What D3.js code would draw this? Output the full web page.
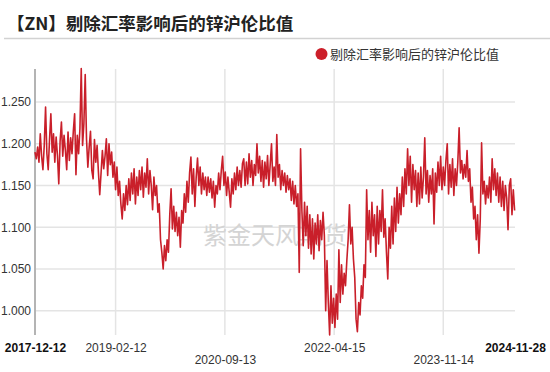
<!DOCTYPE html>
<html><head><meta charset="utf-8">
<script src="https://cdn.jsdelivr.net/npm/d3@7"></script>
<style>body{margin:0;background:#fff;}svg{display:block;}</style>
</head><body>
<script>
const title = "【ZN】剔除汇率影响后的锌沪伦比值";
const seriesName = "剔除汇率影响后的锌沪伦比值";
const watermark = "紫金天风期货";
const startDate = "2017-12-12";
const endDate = "2024-11-28";
const stepDays = 7;
const xTickLabels = ["2017-12-12","2019-02-12","2020-09-13","2022-04-15","2023-11-14","2024-11-28"];
const xTickRow = [0,0,1,0,1,0];
const xTickBold = [true,false,false,false,false,true];
const yTicks = [1.000,1.050,1.100,1.150,1.200,1.250];
const yDomain = [0.971, 1.2895];
const values = [
1.190,1.182,1.196,1.178,1.212,1.185,1.169,1.198,1.244,1.188,
1.169,1.205,1.236,1.190,1.212,1.178,1.208,1.186,1.152,1.203,
1.226,1.185,1.210,1.192,1.169,1.214,1.180,1.207,1.188,1.215,
1.236,1.163,1.210,1.188,1.218,1.290,1.198,1.224,1.283,1.205,
1.172,1.196,1.215,1.168,1.158,1.205,1.178,1.198,1.166,1.139,
1.165,1.192,1.170,1.185,1.206,1.162,1.200,1.175,1.190,1.160,
1.178,1.145,1.172,1.138,1.155,1.128,1.110,1.140,1.120,1.150,
1.127,1.158,1.132,1.165,1.140,1.170,1.128,1.160,1.138,1.168,
1.145,1.172,1.136,1.165,1.148,1.182,1.140,1.168,1.150,1.121,
1.160,1.138,1.150,1.118,1.128,1.085,1.070,1.050,1.078,1.060,
1.085,1.070,1.115,1.146,1.098,1.125,1.095,1.118,1.090,1.112,
1.076,1.120,1.105,1.140,1.118,1.155,1.130,1.165,1.184,1.140,
1.170,1.125,1.160,1.183,1.150,1.172,1.140,1.165,1.145,1.160,
1.138,1.160,1.142,1.158,1.135,1.155,1.124,1.150,1.140,1.165,
1.145,1.168,1.185,1.150,1.166,1.138,1.160,1.142,1.124,1.158,
1.140,1.165,1.145,1.172,1.150,1.168,1.148,1.176,1.182,1.150,
1.178,1.152,1.188,1.160,1.180,1.150,1.175,1.162,1.200,1.165,
1.185,1.155,1.180,1.148,1.178,1.158,1.186,1.150,1.175,1.200,
1.155,1.172,1.150,1.211,1.160,1.175,1.145,1.168,1.150,1.165,
1.142,1.162,1.145,1.158,1.132,1.155,1.128,1.150,1.125,1.140,
1.046,1.194,1.120,1.078,1.130,1.090,1.125,1.075,1.115,1.068,
1.110,1.062,1.105,1.080,1.115,1.072,1.108,1.085,1.118,1.090,
1.000,1.060,1.010,0.971,1.030,0.985,1.015,0.980,1.020,0.990,
1.073,1.010,1.055,1.020,1.045,1.030,1.060,1.085,1.127,1.080,
1.100,1.062,1.040,0.990,0.975,1.010,0.995,1.030,1.015,1.055,
1.040,1.145,1.085,1.120,1.070,1.130,1.090,1.115,1.065,1.125,
1.080,1.120,1.095,1.145,1.088,1.110,1.070,1.038,1.100,1.075,
1.125,1.080,1.135,1.095,1.148,1.105,1.140,1.115,1.160,1.125,
1.170,1.140,1.194,1.150,1.185,1.130,1.175,1.145,1.168,1.125,
1.165,1.128,1.172,1.135,1.160,1.207,1.140,1.168,1.130,1.162,
1.140,1.170,1.104,1.165,1.142,1.178,1.150,1.185,1.145,1.172,
1.150,1.180,1.200,1.140,1.175,1.148,1.182,1.138,1.170,1.150,
1.178,1.219,1.165,1.180,1.158,1.175,1.160,1.192,1.155,1.170,
1.130,1.148,1.110,1.125,1.085,1.115,1.069,1.110,1.201,1.140,
1.155,1.128,1.150,1.135,1.160,1.130,1.182,1.145,1.170,1.138,
1.165,1.130,1.160,1.125,1.155,1.120,1.150,1.135,1.097,1.150,
1.158,1.115,1.145,1.120
];

const W = 550, H = 372;
const plot = {left: 35, right: 515, top: 69, bottom: 335};
const parse = d3.timeParse("%Y-%m-%d");
const t0 = parse(startDate);
const data = values.map((v, i) => ({date: d3.timeDay.offset(t0, i * stepDays), value: v}));

const x = d3.scaleTime().domain([parse(startDate), parse(endDate)]).range([plot.left, plot.right]);
const y = d3.scaleLinear().domain(yDomain).range([plot.bottom, plot.top]);

const svg = d3.select("body").append("svg").attr("width", W).attr("height", H)
  .style("font-family", "Arial, 'Liberation Sans', sans-serif");

// Title
svg.append("text").attr("x", 7).attr("y", 30)
  .attr("font-family", "'Noto Sans CJK SC', sans-serif")
  .attr("font-weight", "bold").attr("font-size", 17.5).attr("fill", "#222")
  .text(title);
svg.append("line").attr("x1", 4).attr("x2", W).attr("y1", 38.5).attr("y2", 38.5)
  .attr("stroke", "#d2d2d2").attr("stroke-width", 1.5);

// Legend
svg.append("circle").attr("cx", 321.5).attr("cy", 54).attr("r", 6).attr("fill", "#cc1f2a");
svg.append("text").attr("x", 330).attr("y", 58.5)
  .attr("font-family", "'Noto Sans CJK SC', sans-serif")
  .attr("font-size", 13).attr("fill", "#333").text(seriesName);

// Grid
const gGrid = svg.append("g");
gGrid.selectAll("line.h").data(yTicks).enter().append("line")
  .attr("x1", plot.left).attr("x2", plot.right)
  .attr("y1", d => y(d)).attr("y2", d => y(d))
  .attr("stroke", "#e4e4e4").attr("stroke-width", 1.5);
gGrid.selectAll("line.v").data(xTickLabels.slice(1, -1)).enter().append("line")
  .attr("x1", d => x(parse(d))).attr("x2", d => x(parse(d)))
  .attr("y1", plot.top).attr("y2", plot.bottom)
  .attr("stroke", "#e4e4e4").attr("stroke-width", 1.5);

// Watermark
svg.append("text").attr("x", 203).attr("y", 244)
  .attr("font-family", "'Noto Sans CJK SC', sans-serif")
  .attr("font-size", 24).attr("fill", "#d4d4d4").text(watermark);

// Y axis
const yAxis = d3.axisLeft(y).tickValues(yTicks).tickFormat(d3.format(".3f")).tickSize(0).tickPadding(4);
const gy = svg.append("g").attr("transform", `translate(${plot.left},0)`).call(yAxis);
gy.select(".domain").remove();
gy.selectAll("text").attr("font-size", 12).attr("fill", "#333").attr("font-family", "Arial, 'Liberation Sans', sans-serif");
svg.append("line").attr("x1", plot.left).attr("x2", plot.left).attr("y1", plot.top).attr("y2", plot.bottom)
  .attr("stroke", "#b4b4b4").attr("stroke-width", 2);

// X axis labels
const xAxis = d3.axisBottom(x).tickValues(xTickLabels.map(parse)).tickFormat(d3.timeFormat("%Y-%m-%d")).tickSize(0).tickPadding(0);
const gx = svg.append("g").attr("transform", `translate(0,${plot.bottom})`).call(xAxis);
gx.select(".domain").remove();
gx.selectAll("text")
  .attr("dy", null)
  .attr("y", (d, i) => xTickRow[i] ? 29 : 17)
  .attr("font-size", 12)
  .attr("font-weight", (d, i) => xTickBold[i] ? "bold" : "normal")
  .attr("fill", (d, i) => xTickBold[i] ? "#111" : "#333")
  .attr("font-family", "Arial, 'Liberation Sans', sans-serif");

// Line
const line = d3.line().x(d => x(d.date)).y(d => y(d.value));
svg.append("path").datum(data).attr("d", line)
  .attr("fill", "none").attr("stroke", "#c91f2a").attr("stroke-width", 1.6).attr("stroke-linejoin", "round");
</script>
</body></html>
